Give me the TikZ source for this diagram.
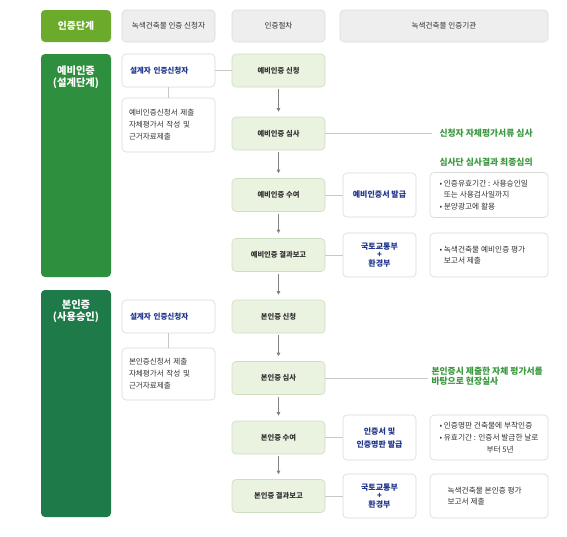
\documentclass[tikz,border=0pt]{standalone}
\usepackage{fontspec}
\setmainfont{Noto Sans CJK KR}
\usetikzlibrary{arrows.meta}
\definecolor{hdrfill}{RGB}{238,238,238}
\definecolor{hdrdraw}{RGB}{220,220,220}
\definecolor{stagelime}{RGB}{108,170,44}
\definecolor{stagegreen}{RGB}{46,143,62}
\definecolor{stageteal}{RGB}{30,122,72}
\definecolor{procfill}{RGB}{234,242,224}
\definecolor{procdraw}{RGB}{208,222,192}
\definecolor{boxdraw}{RGB}{218,218,218}
\definecolor{navy}{RGB}{32,52,140}
\definecolor{notegreen}{RGB}{58,152,62}
\definecolor{linegray}{RGB}{200,200,200}
\definecolor{arrowgray}{RGB}{130,130,130}
\definecolor{txt}{RGB}{51,51,51}
\tikzset{
  hdr/.style={draw=hdrdraw, fill=hdrfill, rounded corners=4pt, line width=0.6pt,
    text=txt, font=\fontsize{7.6}{9}\selectfont, inner sep=0pt},
  stagebox/.style={rounded corners=4pt, inner sep=0pt},
  stagetext/.style={text=white, font=\fontsize{10.3}{12.5}\selectfont\bfseries, align=center},
  wbox/.style={draw=boxdraw, fill=white, rounded corners=4pt, line width=0.6pt, inner sep=0pt},
  pbox/.style={draw=procdraw, fill=procfill, rounded corners=4pt, line width=0.6pt, inner sep=0pt,
    text=txt, font=\fontsize{7.3}{9}\selectfont\bfseries, minimum width=93pt, minimum height=33pt},
  bluetext/.style={text=navy, font=\fontsize{8}{11}\selectfont\bfseries, align=center},
  leftnote/.style={text=txt, font=\fontsize{7.7}{11.6}\selectfont, align=left},
  greennote/.style={text=notegreen, font=\fontsize{8.8}{10.5}\selectfont\bfseries, align=left},
  conn/.style={draw=linegray, line width=0.7pt},
  flow/.style={draw=arrowgray, line width=0.8pt, -{Triangle[length=3.5pt,width=3.5pt]},
    shorten <=2pt, shorten >=5pt}
}
\begin{document}
\begin{tikzpicture}[x=1pt,y=-1pt]
\useasboundingbox[fill=white] (0,0) rectangle (567,536);

% header row
\node[stagebox, fill=stagelime, minimum width=70pt, minimum height=32pt,
  text=white, font=\fontsize{9.8}{11}\selectfont\bfseries] (h1) at (76,26) {인증단계};
\node[hdr, minimum width=93pt, minimum height=32pt] (h2) at (168.5,26) {녹색건축물 인증 신청자};
\node[hdr, minimum width=93pt, minimum height=32pt] (h3) at (278.5,26) {인증절차};
\node[hdr, minimum width=208pt, minimum height=32pt] (h4) at (444,26) {녹색건축물 인증기관};

% stage boxes
\node[stagebox, fill=stagegreen, minimum width=70pt, minimum height=223pt] (s1) at (76,165.5) {};
\node[stagetext] (s1t) at (76,77) {예비인증\\(설계단계)};
\node[stagebox, fill=stageteal, minimum width=70pt, minimum height=227pt] (s2) at (76,403.5) {};
\node[stagetext] (s2t) at (76,311) {본인증\\(사용승인)};

% applicant column
\node[wbox, minimum width=93pt, minimum height=33pt, text width=77pt, align=left,
  text=navy, font=\fontsize{7.6}{9}\selectfont\bfseries] (a1) at (168.5,70.5) {설계자 인증신청자};
\node[wbox, minimum width=93pt, minimum height=54pt, text width=79pt, align=left,
  text=txt, font=\fontsize{7.6}{12}\selectfont] (a2) at (168.5,125) {예비인증신청서 제출\\자체평가서 작성 및\\근거자료제출};
\node[wbox, minimum width=93pt, minimum height=33pt, text width=77pt, align=left,
  text=navy, font=\fontsize{7.6}{9}\selectfont\bfseries] (a3) at (168.5,316.5) {설계자 인증신청자};
\node[wbox, minimum width=93pt, minimum height=52pt, text width=79pt, align=left,
  text=txt, font=\fontsize{7.6}{12}\selectfont] (a4) at (168.5,374) {본인증신청서 제출\\자체평가서 작성 및\\근거자료제출};

% process column
\node[pbox] (p1) at (278.5,70.5) {예비인증 신청};
\node[pbox] (p2) at (278.5,133.5) {예비인증 심사};
\node[pbox] (p3) at (278.5,195) {예비인증 수여};
\node[pbox] (p4) at (278.5,255) {예비인증 결과보고};
\node[pbox] (p5) at (278.5,316.5) {본인증 신청};
\node[pbox] (p6) at (278.5,378) {본인증 심사};
\node[pbox] (p7) at (278.5,437.5) {본인증 수여};
\node[pbox] (p8) at (278.5,496) {본인증 결과보고};

% agency column
\node[wbox, minimum width=73pt, minimum height=44pt] (b1) at (379.5,195) {};
\node[bluetext] (b1t) at (b1.center) {예비인증서 발급};
\node[wbox, minimum width=73pt, minimum height=44pt] (b2) at (379.5,255) {};
\node[bluetext, font=\fontsize{8}{8.5}\selectfont\bfseries] (b2t) at (b2.center) {국토교통부\\+\\환경부};
\node[wbox, minimum width=73pt, minimum height=45pt] (b3) at (379.5,437.5) {};
\node[bluetext, font=\fontsize{8}{13}\selectfont\bfseries] (b3t) at (b3.center) {인증서 및\\인증명판 발급};
\node[wbox, minimum width=73pt, minimum height=44pt] (b4) at (379.5,496) {};
\node[bluetext, font=\fontsize{8}{8.5}\selectfont\bfseries] (b4t) at (b4.center) {국토교통부\\+\\환경부};

% notes column
\node[wbox, minimum width=118pt, minimum height=45pt] (n1) at (489,195) {};
\node[leftnote, anchor=west] (n1t) at (436,195) {• 인증유효기간 : 사용승인일\\\hphantom{• }또는 사용검사일까지\\• 분양광고에 활용};
\node[wbox, minimum width=118pt, minimum height=44pt] (n2) at (489,255) {};
\node[leftnote, anchor=west] (n2t) at (436,255) {• 녹색건축물 예비인증 평가\\\hphantom{• }보고서 제출};
\node[wbox, minimum width=118pt, minimum height=45pt] (n3) at (489,437.5) {};
\node[leftnote, anchor=west] (n3t) at (436,437.5) {• 인증명판 건축물에 부착인증\\• 유효기간 : 인증서 발급한 날로\\\hspace*{47pt}부터 5년};
\node[wbox, minimum width=118pt, minimum height=44pt] (n4) at (489,496) {};
\node[leftnote, anchor=west] (n4t) at (444,496) {녹색건축물 본인증 평가\\보고서 제출};

% green annotations
\coordinate (g1) at (432,133.5);
\node[greennote, anchor=west] (g1t) at (436,133.5) {신청자 자체평가서류 심사};
\node[greennote, anchor=west] (g2t) at (436,162) {심사단 심사결과 최종심의};
\coordinate (g3) at (428,378);
\node[greennote, anchor=west] (g3t) at (428,376) {본인증시 제출한 자체 평가서를\\바탕으로 현장실사};

% connectors
\draw[conn] (a1.east) -- (p1.west);
\draw[conn] (a1.south) -- (a2.north);
\draw[conn] (a3.south) -- (a4.north);
\draw[conn] (p2.east) -- (g1);
\draw[conn] (p6.east) -- (g3);
\draw[conn] (p3.east) -- (b1.west);
\draw[conn] (p4.east) -- (b2.west);
\draw[conn] (p7.east) -- (b3.west);
\draw[conn] (p8.east) -- (b4.west);

% flow arrows
\draw[flow] (p1.south) -- (p2.north);
\draw[flow] (p2.south) -- (p3.north);
\draw[flow] (p3.south) -- (p4.north);
\draw[flow] (p4.south) -- (p5.north);
\draw[flow] (p5.south) -- (p6.north);
\draw[flow] (p6.south) -- (p7.north);
\draw[flow] (p7.south) -- (p8.north);
\end{tikzpicture}
\end{document}
